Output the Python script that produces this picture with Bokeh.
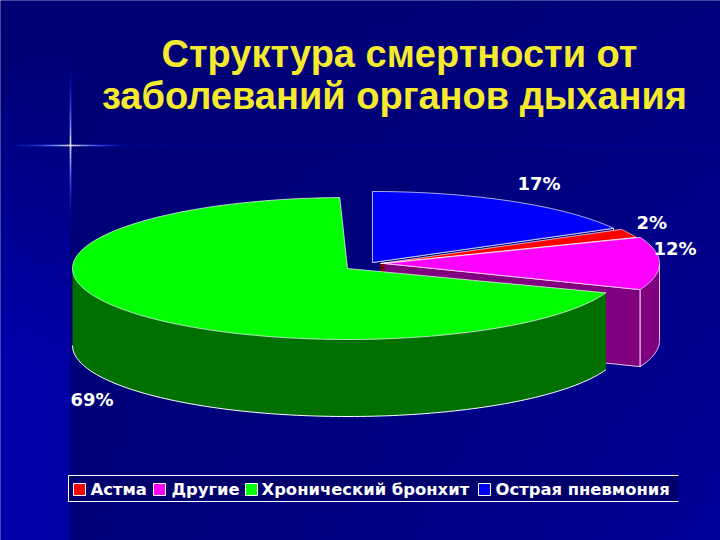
import numpy as np
from bokeh.plotting import figure
from bokeh.models import Range1d
from bokeh.core.properties import value
from bokeh.embed import file_html
from bokeh.resources import INLINE

categories = ["Острая пневмония", "Астма", "Другие", "Хронический бронхит"]
shares = [17, 2, 12, 69]
share_labels = ["17%", "2%", "12%", "69%"]
top_colors = ["#0000ff", "#ff0000", "#ff00ff", "#00ff00"]
side_colors = ["#000080", "#800000", "#800080", "#007000"]
centers_x = [372, 380, 384, 347]
centers_y = [262, 263, 263, 268]
tilts = [0, 0, 0, 1.6]
label_x = [517, 636, 653, 70]
label_y = [183, 222, 248, 399]
title_lines = ["Структура смертности от", "заболеваний органов дыхания"]
title_x = [399, 394]
title_y = [53, 95]
legend_order = ["Астма", "Другие", "Хронический бронхит", "Острая пневмония"]
legend_swatch_x = [73, 153, 245, 478]
legend_text_x = [90, 171, 261, 495]

A, B, DEPTH = 275.0, 71.0, 77.0
W, H = 720, 540

p = figure(width=W, height=H, output_backend="svg", toolbar_location=None,
           x_range=Range1d(0, W), y_range=Range1d(H, 0), min_border=0)
p.xaxis.visible = False
p.yaxis.visible = False
p.grid.visible = False
p.outline_line_color = None
p.background_fill_color = "#000078"
p.border_fill_color = "#000078"

# background: gradient panel and lighter left strip, as small cells
xe = np.arange(0, W, 10)
ye = np.arange(0, H, 10)
cx_g, cy_g = np.meshgrid(xe + 5.0, ye + 5.0)
lv = 118 + 30 * (cx_g / 720.0) * (cy_g / 540.0) + 8 * np.clip((cx_g - 400) / 320.0, 0, 1)
strip = (cx_g < 70) * np.clip((cy_g - 60) / 300.0, 0, 1)
lv = lv + strip * (56 - 10 * cx_g / 70.0)
cell_colors = ["#0000%02x" % int(min(v, 255)) for v in lv.ravel()]
lx, ty = np.meshgrid(xe, ye)
p.quad(left=lx.ravel(), right=lx.ravel() + 10, top=ty.ravel(), bottom=ty.ravel() + 10,
       fill_color=cell_colors, line_color=cell_colors, line_width=0.5)

# the star and its faint line to the right
sx, sy = 70, 145
p.segment([130], [sy], [720], [sy], line_color="#00008c", line_width=2)


def fade(d, reach):
    f = max(0.0, 1 - d / reach) ** 1.5
    r = int(255 * f ** 1.8)
    g = int(255 * f ** 1.4)
    b = int(130 + 125 * min(1.0, f * 2))
    return "#%02x%02x%02x" % (r, g, b)


for d in range(0, 66, 2):
    c = fade(d, 66)
    p.segment([sx + d, sx - d - 2], [sy, sy], [sx + d + 2, sx - d], [sy, sy], line_color=c, line_width=1.6)
for d in range(0, 86, 2):
    c = fade(d, 86)
    p.segment([sx, sx], [sy + d, sy - d - 2], [sx, sx], [sy + d + 2, sy - d], line_color=c, line_width=1.6)


def arc(cx, cy, t1, t2, n=120):
    t = np.radians(np.linspace(t1, t2, n))
    return cx + A * np.cos(t), cy - B * np.sin(t)


OUT = "#ffffff"
angle = 90.0
for share, top, side, cx, cy, tilt in zip(shares, top_colors, side_colors, centers_x, centers_y, tilts):
    start = angle + tilt
    end = start - share * 3.6
    angle = angle - share * 3.6

    # the cut wall facing the viewer
    if np.cos(np.radians(end)) > 0:
        ex, ey = arc(cx, cy, end, end, 1)
        wx = [cx, ex[0], ex[0], cx]
        wy = [cy, ey[0], ey[0] + DEPTH, cy + DEPTH]
        p.patch(wx, wy, fill_color=side, line_color=None)
        p.line([cx, ex[0], ex[0]], [cy, ey[0], ey[0] + DEPTH], line_color=OUT, line_width=0.8)
        p.line([cx, ex[0]], [cy + DEPTH, ey[0] + DEPTH], line_color=OUT, line_width=0.8)

    # the outer side, only where it faces the viewer
    hi, lo = min(start, 0.0), max(end, -180.0)
    if hi > lo:
        ax, ay = arc(cx, cy, hi, lo)
        p.patch(np.r_[ax, ax[::-1]], np.r_[ay, ay[::-1] + DEPTH], fill_color=side, line_color=None)
        p.line(ax, ay + DEPTH, line_color=OUT, line_width=1)
        if lo > -180:
            p.line([ax[-1], ax[-1]], [ay[-1], ay[-1] + DEPTH], line_color=OUT, line_width=0.8)
        if hi == 0.0:
            p.line([ax[0], ax[0]], [ay[0], ay[0] + DEPTH], line_color=OUT, line_width=0.8)

    # the top face
    tx, ty2 = arc(cx, cy, start, end)
    p.patch(np.r_[cx, tx], np.r_[cy, ty2], fill_color=top, line_color=OUT, line_width=0.8, line_alpha=0.85)

# labels
p.text(label_x, label_y, text=share_labels, text_color="#ffffff", text_font=value("DejaVu Sans"),
       text_font_style="bold", text_font_size="18px", text_baseline="middle", text_align="left")

# title
p.text(title_x, title_y, text=title_lines, text_color="#f5ea2e", text_font=value("Liberation Sans"),
       text_font_style="bold", text_font_size="38px", text_baseline="middle", text_align="center")

# legend
p.quad(left=[68], right=[678], top=[475], bottom=[501], fill_color="#00006c", line_color=None)
p.multi_line([[68, 678], [68, 678], [68, 68]], [[475, 475], [501, 501], [475, 501]],
             line_color="#ffffff", line_width=1)
legend_colors = [top_colors[categories.index(c)] for c in legend_order]
p.quad(left=legend_swatch_x, right=[x + 12 for x in legend_swatch_x],
       top=[483] * 4, bottom=[495] * 4, fill_color=legend_colors, line_color="#ffffff", line_width=1)
p.text(legend_text_x, [489] * 4, text=legend_order, text_color="#ffffff", text_font=value("DejaVu Sans"),
       text_font_style="bold", text_font_size="16.4px", text_baseline="middle", text_align="left")

open("out.html", "w").write(file_html(p, INLINE))
